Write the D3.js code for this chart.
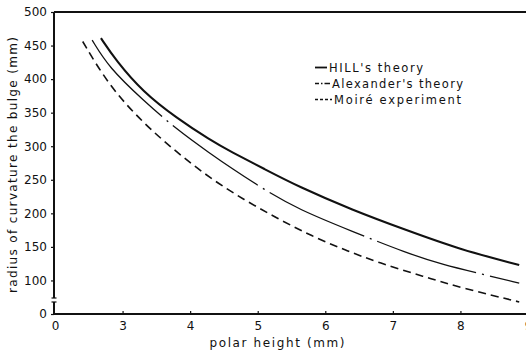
<!DOCTYPE html>
<html><head><meta charset="utf-8">
<script src="https://cdn.jsdelivr.net/npm/d3@7"></script>
<style>
body{margin:0;background:#fff}
svg{display:block}
text{font-family:"DejaVu Sans",sans-serif;fill:#111}
</style>
</head><body>
<svg id="c" width="526" height="354"></svg>
<script>
// ---- data ----
const xTicks = [2, 3, 4, 5, 6, 7, 8, 9];
const xTickLabels = ["0", "3", "4", "5", "6", "7", "8", "9"];
const yTicks = [50, 100, 150, 200, 250, 300, 350, 400, 450, 500];
const yTickLabels = ["0", "100", "150", "200", "250", "300", "350", "400", "450", "500"];

const hillX = [2.68, 2.9, 3.3, 3.8, 4.3, 4.6, 5.1, 5.6, 6.4, 7.2, 8.0, 8.87];
const hillY = [461, 428, 381, 342, 309, 292, 266, 240, 205, 175, 146, 123];

const alexX = [2.55, 2.8, 3.3, 3.8, 4.3, 4.6, 5.1, 5.6, 6.4, 7.2, 7.75, 8.3, 8.87];
const alexY = [458, 417, 369, 325, 289, 268, 235, 206, 173, 141, 123, 110, 96];

const moireX = [2.41, 2.8, 3.3, 3.8, 4.3, 4.8, 5.3, 5.8, 6.3, 6.8, 7.45, 8.05, 8.87];
const moireY = [456, 390, 335, 291, 252, 220, 192, 166, 145, 126, 106, 88, 68];

const seriesNames = ["HILL's theory", "Alexander's theory", "Moiré experiment"];
const xTitle = "polar  height  (mm)";
const yTitle = "radius of curvature the  bulge (mm)";

// ---- layout ----
const svg = d3.select("#c");
const x = d3.scaleLinear().domain([2, 9]).range([55, 528]);
const y = d3.scaleLinear().domain([50, 500]).range([314, 12]);

// frame / axes lines
const g = svg.append("g");
g.append("line").attr("x1", 54).attr("x2", 526).attr("y1", y(500)).attr("y2", y(500))
  .attr("stroke", "#111").attr("stroke-width", 2);
g.append("line").attr("x1", 54).attr("x2", 526).attr("y1", y(50)).attr("y2", y(50))
  .attr("stroke", "#111").attr("stroke-width", 2);
g.append("line").attr("x1", 54).attr("x2", 54).attr("y1", y(500)).attr("y2", 298)
  .attr("stroke", "#111").attr("stroke-width", 2);
g.append("line").attr("x1", 54).attr("x2", 54).attr("y1", 302).attr("y2", y(50))
  .attr("stroke", "#111").attr("stroke-width", 2);
// axis break serifs
[298, 302].forEach(v => g.append("line").attr("x1", 51.5).attr("x2", 56.5).attr("y1", v).attr("y2", v)
  .attr("stroke", "#111").attr("stroke-width", 1.2));

// x axis
const xa = svg.append("g").attr("transform", `translate(0,${y(50)})`)
  .call(d3.axisBottom(x).tickValues(xTicks)
    .tickFormat((d, i) => xTickLabels[i]).tickSizeInner(-3).tickSizeOuter(0).tickPadding(7));
xa.select(".domain").remove();
xa.selectAll(".tick line").attr("stroke", "#111").attr("stroke-width", 1.2)
  .filter(d => d === 2).remove();
xa.selectAll(".tick text").attr("font-size", 12).attr("font-family", "DejaVu Sans").attr("fill", "#111");

// y axis
const ya = svg.append("g").attr("transform", "translate(54,0)")
  .call(d3.axisLeft(y).tickValues(yTicks)
    .tickFormat((d, i) => yTickLabels[i]).tickSizeInner(3).tickSizeOuter(0).tickPadding(4));
ya.select(".domain").remove();
ya.selectAll(".tick line").attr("stroke", "#111").attr("stroke-width", 1.2);
ya.selectAll(".tick text").attr("font-size", 12).attr("font-family", "DejaVu Sans").attr("fill", "#111");

// titles
svg.append("text").attr("x", 277).attr("y", 347).attr("text-anchor", "middle")
  .attr("font-size", 12).attr("textLength", 135).attr("lengthAdjust", "spacing").text(xTitle);
svg.append("text").attr("transform", "translate(17,165) rotate(-90)").attr("text-anchor", "middle")
  .attr("font-size", 12).attr("textLength", 256).attr("lengthAdjust", "spacing").text(yTitle);

// curves
const line = d3.line().x(d => x(d[0])).y(d => y(d[1])).curve(d3.curveBasis);
const zip = (a, b) => a.map((v, i) => [v, b[i]]);
const series = [
  {pts: zip(hillX, hillY), w: 2.1, dash: null},
  {pts: zip(alexX, alexY), w: 1.3, dash: "104,6,2,6"},
  {pts: zip(moireX, moireY), w: 1.6, dash: "8,5"}
];
series.forEach(s => {
  svg.append("path").attr("d", line(s.pts)).attr("fill", "none")
    .attr("stroke", "#111").attr("stroke-width", s.w)
    .attr("stroke-dasharray", s.dash);
});

// legend
const legY = [67.5, 83.5, 99.5];
const legDash = [null, "4,2,1.5,2,6", "3,2"];
const legW = [1.8, 1.3, 1.3];
const legTextX = [329, 332, 334];
const legTextLen = [94, 131, 127];
seriesNames.forEach((name, i) => {
  svg.append("line").attr("x1", 315).attr("x2", legTextX[i] - 2).attr("y1", legY[i]).attr("y2", legY[i])
    .attr("stroke", "#111").attr("stroke-width", legW[i]).attr("stroke-dasharray", legDash[i]);
  svg.append("text").attr("x", legTextX[i]).attr("y", legY[i] + 4.5).attr("font-size", 11.5)
    .attr("textLength", legTextLen[i]).attr("lengthAdjust", "spacing").text(name);
});
</script>
</body></html>
